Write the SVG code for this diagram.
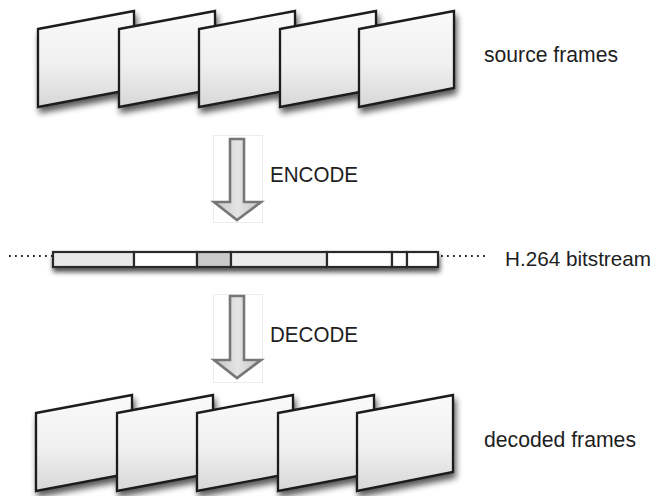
<svg xmlns="http://www.w3.org/2000/svg" width="658" height="496" viewBox="0 0 658 496">
  <defs>
    <linearGradient id="frameFill" x1="0" y1="0" x2="0" y2="1">
      <stop offset="0" stop-color="#fafafa"/>
      <stop offset="0.55" stop-color="#f0f0f0"/>
      <stop offset="1" stop-color="#d7d7d7"/>
    </linearGradient>
    <linearGradient id="arrowFill" x1="0" y1="0" x2="1" y2="0">
      <stop offset="0" stop-color="#c4c4c4"/>
      <stop offset="0.5" stop-color="#e4e4e4"/>
      <stop offset="1" stop-color="#c4c4c4"/>
    </linearGradient>
    <filter id="shadow" x="-20%" y="-20%" width="150%" height="160%">
      <feGaussianBlur in="SourceAlpha" stdDeviation="3.2"/>
      <feOffset dx="2" dy="5" result="b"/>
      <feComponentTransfer><feFuncA type="linear" slope="0.65"/></feComponentTransfer>
      <feMerge><feMergeNode/><feMergeNode in="SourceGraphic"/></feMerge>
    </filter>
    <filter id="softShadow" x="-10%" y="-50%" width="120%" height="250%">
      <feGaussianBlur in="SourceAlpha" stdDeviation="2.5"/>
      <feOffset dx="1" dy="4" result="b"/>
      <feComponentTransfer><feFuncA type="linear" slope="0.7"/></feComponentTransfer>
      <feMerge><feMergeNode/><feMergeNode in="SourceGraphic"/></feMerge>
    </filter>
  </defs>
  <style>
    .frame { fill: url(#frameFill); stroke: #1c1c1c; stroke-width: 2.3; stroke-linejoin: miter; }
    .seg { stroke: #2a2a2a; stroke-width: 2.2; }
    .arrow { fill: url(#arrowFill); stroke: #777777; stroke-width: 2.6; stroke-linejoin: miter; }
    .arrowbox { fill: none; stroke: #ececec; stroke-width: 1; }
    .dots { stroke: #2a2a2a; stroke-width: 2; stroke-dasharray: 1.8 4.2; fill: none; }
    .label { font-family: "Liberation Sans", Arial, Helvetica, sans-serif; font-size: 22px; fill: #1e1e1e; }
    .label.small { font-size: 21px; }
  </style>

  <rect width="658" height="496" fill="#ffffff"/>

  <!-- source frames: five skewed panels, each overlapping the previous one -->
  <g id="source-frames" filter="url(#shadow)">
    <g id="src-frame-1"><polygon class="frame" points="38,29 134,11 134,89 38,107"/></g>
    <g id="src-frame-2"><polygon class="frame" points="119,29 215,11 215,89 119,107"/></g>
    <g id="src-frame-3"><polygon class="frame" points="199,29 295,11 295,89 199,107"/></g>
    <g id="src-frame-4"><polygon class="frame" points="280,29 376,11 376,89 280,107"/></g>
    <g id="src-frame-5"><polygon class="frame" points="359,29 454,11 454,88 359,107"/></g>
  </g>
  <text class="label" x="484" y="62" textLength="134" lengthAdjust="spacingAndGlyphs">source frames</text>

  <!-- bitstream bar made of coded units -->
  <g id="bitstream" filter="url(#softShadow)">
    <rect class="seg" x="53" y="252" width="81" height="15" fill="#e9e9e9"/>
    <rect class="seg" x="134" y="252" width="63" height="15" fill="#ffffff"/>
    <rect class="seg" x="197" y="252" width="34" height="15" fill="#c9c9c9"/>
    <rect class="seg" x="231" y="252" width="96" height="15" fill="#ececec"/>
    <rect class="seg" x="327" y="252" width="65" height="15" fill="#ffffff"/>
    <rect class="seg" x="392" y="252" width="15" height="15" fill="#ffffff"/>
    <rect class="seg" x="407" y="252" width="31" height="15" fill="#ffffff"/>
  </g>
  <text class="label small" x="505" y="266" textLength="146" lengthAdjust="spacingAndGlyphs">H.264 bitstream</text>

  <!-- decoded frames -->
  <g id="decoded-frames" filter="url(#shadow)">
    <g id="dec-frame-1"><polygon class="frame" points="36,413 132,395 132,473 36,491"/></g>
    <g id="dec-frame-2"><polygon class="frame" points="117,413 213,395 213,473 117,491"/></g>
    <g id="dec-frame-3"><polygon class="frame" points="197,413 293,395 293,473 197,491"/></g>
    <g id="dec-frame-4"><polygon class="frame" points="278,413 374,395 374,473 278,491"/></g>
    <g id="dec-frame-5"><polygon class="frame" points="357,413 453,395 453,472 357,491"/></g>
  </g>
  <text class="label" x="484" y="447" textLength="152" lengthAdjust="spacingAndGlyphs">decoded frames</text>

  <!-- connectors: encode/decode arrows and stream continuation dots -->
  <g id="connectors">
    <rect class="arrowbox" x="213.5" y="135.5" width="49" height="87"/>
    <path class="arrow" d="M230,139 H244 V202 H261 L237,220 L214,202 H230 Z"/>
    <rect class="arrowbox" x="213.5" y="294.5" width="49" height="88"/>
    <path class="arrow" d="M230,296 H244 V360 H261 L237,378 L214,360 H230 Z"/>
    <line class="dots" x1="9" y1="256" x2="53" y2="256"/>
    <line class="dots" x1="441" y1="256" x2="486" y2="256"/>
  </g>
  <text class="label" x="270" y="182" textLength="88" lengthAdjust="spacingAndGlyphs">ENCODE</text>
  <text class="label" x="270" y="342" textLength="88" lengthAdjust="spacingAndGlyphs">DECODE</text>
</svg>
